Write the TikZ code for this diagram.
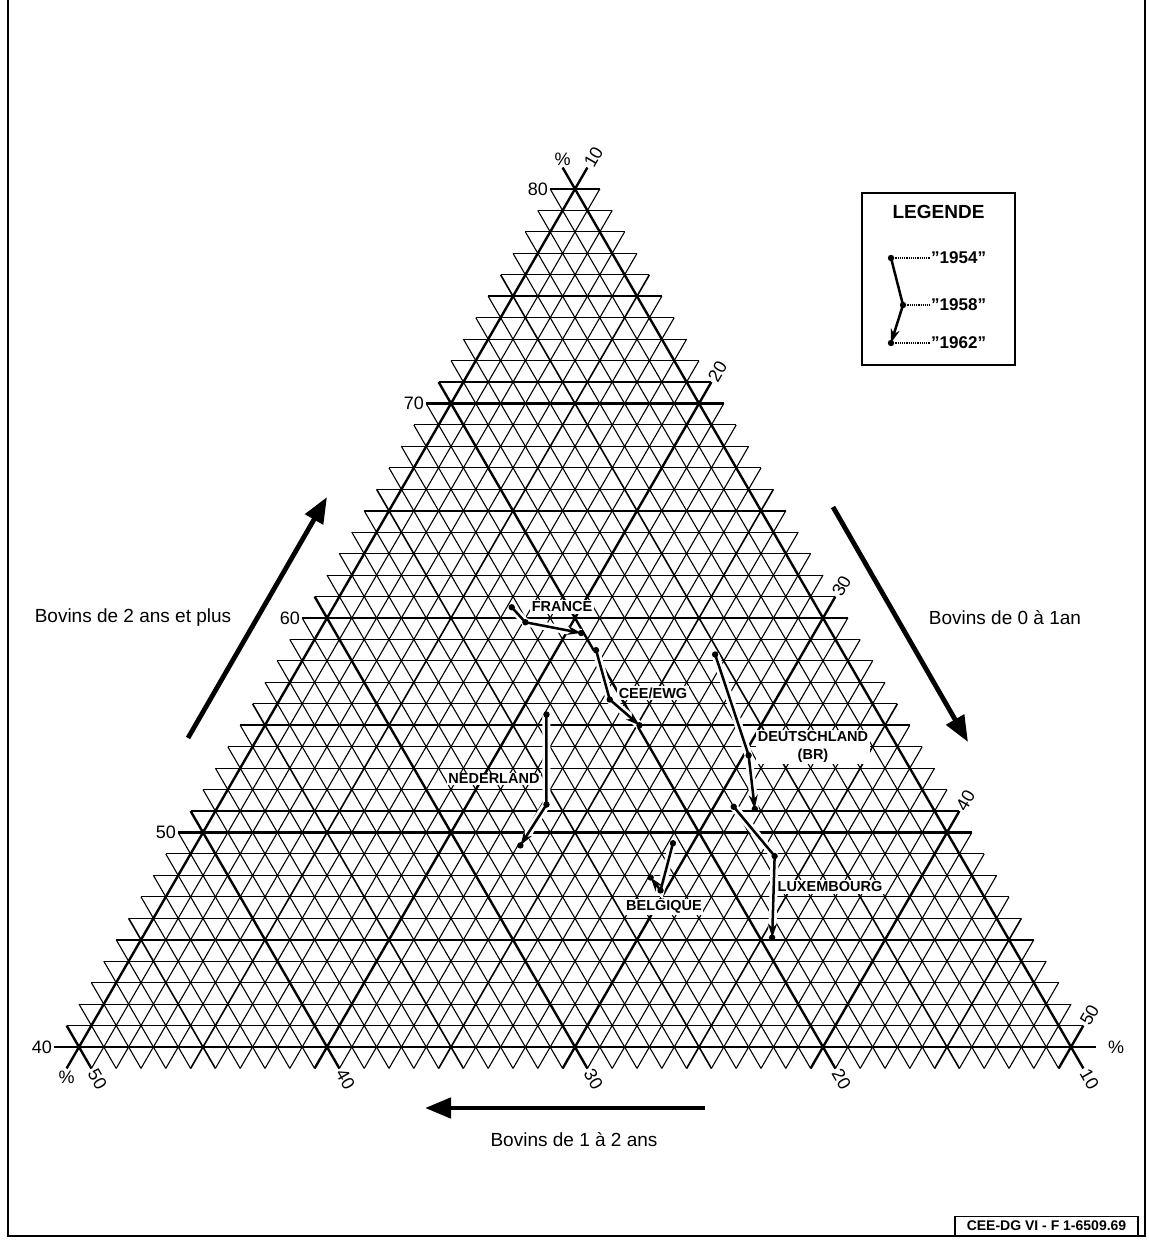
\documentclass[tikz,border=0pt]{standalone}
\usepackage{fontspec}
\setmainfont{Liberation Sans}
\usetikzlibrary{arrows, arrows.meta, positioning}

\tikzstyle{grid1} = [line width=1.1pt]
\tikzstyle{grid2} = [line width=1.6pt]
\tikzstyle{grid3} = [line width=2.4pt]
\tikzstyle{scalenum} = [font=\fontsize{18}{18}\selectfont, inner sep=2pt]
\tikzstyle{axistext} = [font=\fontsize{19}{19}\selectfont]
\tikzstyle{bigarrow} = [line width=4.8pt, -{Triangle[length=26pt,width=20pt]}]
\tikzstyle{trend} = [line width=2.5pt, -{Stealth[length=14pt,width=9pt]}, preaction={draw=white, line width=8pt, arrows=-}]
\tikzstyle{country} = [font=\fontsize{14.5}{18}\selectfont\bfseries, fill=white, inner sep=1.5pt, align=center]
\tikzstyle{leader} = [line width=1.2pt, densely dotted]
\tikzstyle{yeartext} = [font=\fontsize{17}{17}\selectfont\bfseries, inner sep=1pt, anchor=west]

\begin{document}
\begin{tikzpicture}[x=1pt, y=1pt]
    \useasboundingbox (0,0) rectangle (1149,1243);
    % frame and stamp
    \draw[line width=2.5pt] (8,1243) -- (8,7) -- (1145,7) -- (1145,1243);
    \node (stamp) [draw, line width=1.5pt, font=\fontsize{14}{14}\selectfont\bfseries, minimum width=183pt, minimum height=19pt, inner sep=1pt] at (1046.5,17) {CEE-DG VI - F 1-6509.69};

    % ternary grid, coordinates are (b, a)
    \begin{scope}[x={(24.8pt,0pt)}, y={(12.4pt,21.45pt)}, shift={(-665pt,-662pt)}]
        \foreach \i in {0,...,40} {
            \pgfmathtruncatemacro\w{mod(\i,10)==0 ? 3 : (mod(\i,5)==0 ? 2 : 1)}
            \draw[grid\w] (9,{40+\i}) -- ({51-\i},{40+\i});
            \draw[grid\w] ({10+\i},39) -- ({10+\i},{81-\i});
            \draw[grid\w] ({51-\i},39) -- (9,{81-\i});
        }
        \foreach \i in {0,10,...,40} {
            \pgfmathtruncatemacro\va{40+\i}
            \pgfmathtruncatemacro\vb{10+\i}
            \node (a\va) [scalenum, anchor=east] at (9,\va) {\va};
            \node (b\vb) [scalenum, anchor=west, rotate=60] at (\vb,{91-\vb}) {\vb};
            \node (c\vb) [scalenum, anchor=west, rotate=-60] at ({61-\vb},39) {\vb};
        }
        \node (pa) [scalenum, anchor=west, xshift=10pt] at (51,40) {\%};
        \node (pb) [scalenum, anchor=north] at (10,39) {\%};
        \node (pc) [scalenum, anchor=south] at (9,81) {\%};

        \coordinate (fr54) at (17.2,60.5);
        \coordinate (fr58) at (18.1,59.8);
        \coordinate (fr62) at (20.6,59.3);
        \coordinate (ce54) at (21.6,58.5);
        \coordinate (ce58) at (23.3,56.2);
        \coordinate (ce62) at (25.1,55.0);
        \coordinate (de54) at (26.5,58.3);
        \coordinate (de58) at (30.2,53.6);
        \coordinate (de62) at (31.7,51.1);
        \coordinate (lu54) at (30.8,51.2);
        \coordinate (lu58) at (33.6,48.9);
        \coordinate (lu62) at (35.4,45.1);
        \coordinate (nl54) at (21.1,55.5);
        \coordinate (nl58) at (23.2,51.3);
        \coordinate (nl62) at (23.1,49.4);
        \coordinate (be54) at (29.2,49.5);
        \coordinate (be58) at (29.8,47.3);
        \coordinate (be62) at (29.1,47.9);
    \end{scope}

    % countries
    \node (france) [country] at (562,636) {FRANCE};
    \node (cee) [country] at (653,550) {CEE/EWG};
    \node (deutschland) [country] at (813,496) {DEUTSCHLAND\\(BR)};
    \node (luxembourg) [country] at (830,356) {LUXEMBOURG};
    \node (nederland) [country] at (494,464) {NEDERLAND};
    \node (belgique) [country] at (664,336) {BELGIQUE};
    \foreach \cty in {fr,ce,de,lu,nl,be} {
        \draw[trend] (\cty54) -- (\cty58) -- (\cty62);
        \fill (\cty54) circle (3.2pt) (\cty58) circle (3.2pt) (\cty62) circle (3.2pt);
    }

    % axis arrows
    \coordinate (lefttail) at (188,505);
    \coordinate (lefthead) at (327,746);
    \coordinate (righttail) at (833,736);
    \coordinate (righthead) at (968,501);
    \coordinate (bottomtail) at (705,135);
    \coordinate (bottomhead) at (425,135);
    \draw[bigarrow] (lefttail) -- (lefthead);
    \draw[bigarrow] (righttail) -- (righthead);
    \draw[bigarrow] (bottomtail) -- (bottomhead);
    \node (older) [axistext] at (133,625) {Bovins de 2 ans et plus};
    \node (calves) [axistext] at (1005,625) {Bovins de 0 à 1an};
    \node (young) [axistext] at (574,103) {Bovins de 1 à 2 ans};

    % legend
    \node (legend) [draw, line width=1.8pt, minimum width=153pt, minimum height=172pt, inner sep=0pt] at (938.5,964) {};
    \node (legtitle) [font=\fontsize{19}{19}\selectfont\bfseries, below=10pt of legend.north] {LEGENDE};
    \coordinate (l54) at (891,985);
    \coordinate (l58) at (903,938);
    \coordinate (l62) at (891,900);
    \node (t54) [yeartext] at (930,985) {''1954''};
    \node (t58) [yeartext] at (930,938) {''1958''};
    \node (t62) [yeartext] at (930,900) {''1962''};
    \draw[trend] (l54) -- (l58) -- (l62);
    \draw[leader] (l54) -- (t54.west);
    \draw[leader] (l58) -- (t58.west);
    \draw[leader] (l62) -- (t62.west);
    \fill (l54) circle (3.2pt) (l58) circle (3.2pt) (l62) circle (3.2pt);
\end{tikzpicture}
\end{document}
